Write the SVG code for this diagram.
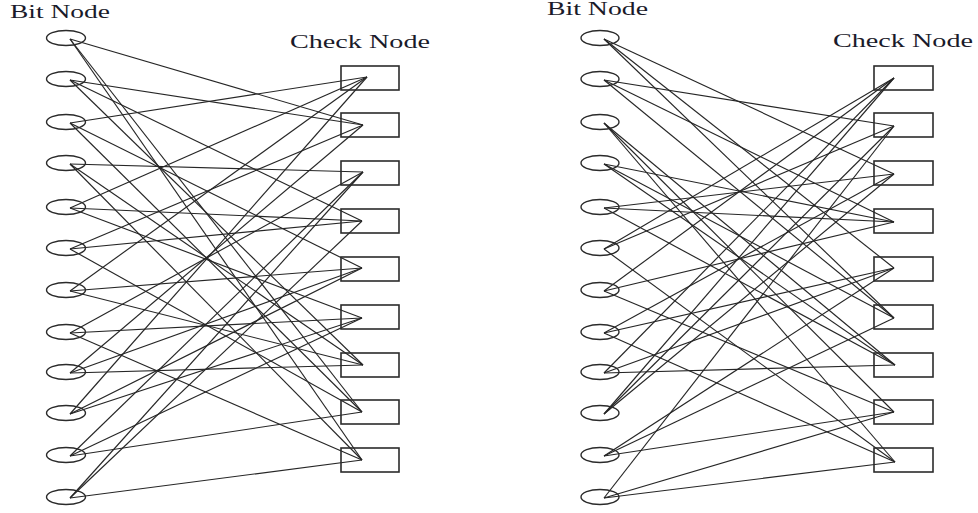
<svg xmlns="http://www.w3.org/2000/svg" width="978" height="513" viewBox="0 0 978 513">
<style>
.bit{fill:none;stroke:#2b2b2b;stroke-width:1.4}
.chk{fill:none;stroke:#2b2b2b;stroke-width:1.6}
.e{stroke:#262626;stroke-width:1.15;fill:none}
.lbl{font-family:"Liberation Serif","Times New Roman",serif;font-size:18px;fill:#1a1a2a}
</style>
<rect width="978" height="513" fill="#fff"/>
<g id="labels">
<text class="lbl" x="10" y="18" textLength="100" lengthAdjust="spacingAndGlyphs">Bit Node</text>
<text class="lbl" x="290" y="48" textLength="140" lengthAdjust="spacingAndGlyphs">Check Node</text>
<text class="lbl" x="547" y="15" textLength="101" lengthAdjust="spacingAndGlyphs">Bit Node</text>
<text class="lbl" x="833" y="47" textLength="140" lengthAdjust="spacingAndGlyphs">Check Node</text>
</g>
<g id="connectors-left" class="e">
<line x1="70" y1="39" x2="363" y2="125"/><line x1="70" y1="39" x2="362" y2="412"/><line x1="70" y1="39" x2="362" y2="460"/>
<line x1="70" y1="80" x2="363" y2="125"/><line x1="70" y1="80" x2="362" y2="221"/><line x1="70" y1="80" x2="363" y2="365"/>
<line x1="70" y1="123" x2="367" y2="77"/><line x1="70" y1="123" x2="362" y2="268"/><line x1="70" y1="123" x2="362" y2="412"/>
<line x1="70" y1="164" x2="363" y2="172"/><line x1="70" y1="164" x2="363" y2="365"/><line x1="70" y1="164" x2="362" y2="460"/>
<line x1="70" y1="208" x2="367" y2="77"/><line x1="70" y1="208" x2="362" y2="221"/><line x1="70" y1="208" x2="362" y2="318"/>
<line x1="70" y1="249" x2="362" y2="221"/><line x1="70" y1="249" x2="363" y2="125"/><line x1="70" y1="249" x2="362" y2="412"/>
<line x1="70" y1="291" x2="362" y2="268"/><line x1="70" y1="291" x2="367" y2="77"/><line x1="70" y1="291" x2="363" y2="365"/>
<line x1="70" y1="333" x2="362" y2="318"/><line x1="70" y1="333" x2="363" y2="172"/><line x1="70" y1="333" x2="362" y2="460"/>
<line x1="70" y1="373" x2="363" y2="365"/><line x1="70" y1="373" x2="363" y2="125"/><line x1="70" y1="373" x2="362" y2="268"/>
<line x1="70" y1="414" x2="367" y2="77"/><line x1="70" y1="414" x2="362" y2="268"/><line x1="70" y1="414" x2="362" y2="318"/>
<line x1="70" y1="456" x2="362" y2="412"/><line x1="70" y1="456" x2="363" y2="172"/><line x1="70" y1="456" x2="362" y2="318"/>
<line x1="70" y1="498" x2="362" y2="460"/><line x1="70" y1="498" x2="363" y2="172"/><line x1="70" y1="498" x2="362" y2="221"/>
</g>
<g id="connectors-right" class="e">
<line x1="604" y1="39" x2="894" y2="174"/><line x1="604" y1="39" x2="894" y2="318"/><line x1="604" y1="39" x2="894" y2="268"/>
<line x1="604" y1="80" x2="894" y2="222"/><line x1="604" y1="80" x2="894" y2="318"/><line x1="604" y1="80" x2="894" y2="126"/>
<line x1="604" y1="123" x2="895" y2="365"/><line x1="604" y1="123" x2="894" y2="412"/><line x1="604" y1="123" x2="895" y2="462"/>
<line x1="604" y1="164" x2="894" y2="222"/><line x1="604" y1="164" x2="895" y2="365"/><line x1="604" y1="164" x2="894" y2="318"/>
<line x1="604" y1="208" x2="894" y2="174"/><line x1="604" y1="208" x2="895" y2="365"/><line x1="604" y1="208" x2="894" y2="222"/>
<line x1="604" y1="249" x2="894" y2="126"/><line x1="604" y1="249" x2="895" y2="462"/><line x1="604" y1="249" x2="894" y2="78"/>
<line x1="604" y1="291" x2="894" y2="78"/><line x1="604" y1="291" x2="894" y2="222"/><line x1="604" y1="291" x2="894" y2="412"/>
<line x1="604" y1="333" x2="895" y2="462"/><line x1="604" y1="333" x2="894" y2="268"/><line x1="604" y1="333" x2="894" y2="174"/>
<line x1="604" y1="373" x2="895" y2="365"/><line x1="604" y1="373" x2="894" y2="268"/><line x1="604" y1="373" x2="894" y2="78"/>
<line x1="604" y1="414" x2="894" y2="78"/><line x1="604" y1="414" x2="894" y2="126"/><line x1="604" y1="414" x2="894" y2="174"/>
<line x1="604" y1="456" x2="894" y2="318"/><line x1="604" y1="456" x2="894" y2="412"/><line x1="604" y1="456" x2="894" y2="268"/>
<line x1="604" y1="498" x2="895" y2="462"/><line x1="604" y1="498" x2="894" y2="412"/><line x1="604" y1="498" x2="894" y2="126"/>
</g>
<g id="left-bits">
<g id="Lb1"><ellipse class="bit" cx="66" cy="38" rx="19.5" ry="7.5"/></g>
<g id="Lb2"><ellipse class="bit" cx="66" cy="79" rx="19.5" ry="7.5"/></g>
<g id="Lb3"><ellipse class="bit" cx="66" cy="122" rx="19.5" ry="7.5"/></g>
<g id="Lb4"><ellipse class="bit" cx="66" cy="163" rx="19.5" ry="7.5"/></g>
<g id="Lb5"><ellipse class="bit" cx="66" cy="207" rx="19.5" ry="7.5"/></g>
<g id="Lb6"><ellipse class="bit" cx="66" cy="248" rx="19.5" ry="7.5"/></g>
<g id="Lb7"><ellipse class="bit" cx="66" cy="290" rx="19.5" ry="7.5"/></g>
<g id="Lb8"><ellipse class="bit" cx="66" cy="332" rx="19.5" ry="7.5"/></g>
<g id="Lb9"><ellipse class="bit" cx="66" cy="372" rx="19.5" ry="7.5"/></g>
<g id="Lb10"><ellipse class="bit" cx="66" cy="413" rx="19.5" ry="7.5"/></g>
<g id="Lb11"><ellipse class="bit" cx="66" cy="455" rx="19.5" ry="7.5"/></g>
<g id="Lb12"><ellipse class="bit" cx="66" cy="497" rx="19.5" ry="7.5"/></g>
</g>
<g id="left-checks">
<g id="Lc1"><rect class="chk" x="341" y="66" width="58" height="24"/></g>
<g id="Lc2"><rect class="chk" x="341" y="113" width="58" height="24"/></g>
<g id="Lc3"><rect class="chk" x="341" y="161" width="58" height="24"/></g>
<g id="Lc4"><rect class="chk" x="341" y="209" width="58" height="24"/></g>
<g id="Lc5"><rect class="chk" x="341" y="257" width="58" height="24"/></g>
<g id="Lc6"><rect class="chk" x="341" y="305" width="58" height="24"/></g>
<g id="Lc7"><rect class="chk" x="341" y="353" width="58" height="24"/></g>
<g id="Lc8"><rect class="chk" x="341" y="400" width="58" height="24"/></g>
<g id="Lc9"><rect class="chk" x="341" y="448" width="58" height="24"/></g>
</g>
<g id="right-bits">
<g id="Rb1"><ellipse class="bit" cx="600" cy="38" rx="19" ry="7.5"/></g>
<g id="Rb2"><ellipse class="bit" cx="600" cy="79" rx="19" ry="7.5"/></g>
<g id="Rb3"><ellipse class="bit" cx="600" cy="122" rx="19" ry="7.5"/></g>
<g id="Rb4"><ellipse class="bit" cx="600" cy="163" rx="19" ry="7.5"/></g>
<g id="Rb5"><ellipse class="bit" cx="600" cy="207" rx="19" ry="7.5"/></g>
<g id="Rb6"><ellipse class="bit" cx="600" cy="248" rx="19" ry="7.5"/></g>
<g id="Rb7"><ellipse class="bit" cx="600" cy="290" rx="19" ry="7.5"/></g>
<g id="Rb8"><ellipse class="bit" cx="600" cy="332" rx="19" ry="7.5"/></g>
<g id="Rb9"><ellipse class="bit" cx="600" cy="372" rx="19" ry="7.5"/></g>
<g id="Rb10"><ellipse class="bit" cx="600" cy="413" rx="19" ry="7.5"/></g>
<g id="Rb11"><ellipse class="bit" cx="600" cy="455" rx="19" ry="7.5"/></g>
<g id="Rb12"><ellipse class="bit" cx="600" cy="497" rx="19" ry="7.5"/></g>
</g>
<g id="right-checks">
<g id="Rc1"><rect class="chk" x="874" y="66" width="59" height="24"/></g>
<g id="Rc2"><rect class="chk" x="874" y="113" width="59" height="24"/></g>
<g id="Rc3"><rect class="chk" x="874" y="161" width="59" height="24"/></g>
<g id="Rc4"><rect class="chk" x="874" y="209" width="59" height="24"/></g>
<g id="Rc5"><rect class="chk" x="874" y="257" width="59" height="24"/></g>
<g id="Rc6"><rect class="chk" x="874" y="305" width="59" height="24"/></g>
<g id="Rc7"><rect class="chk" x="874" y="353" width="59" height="24"/></g>
<g id="Rc8"><rect class="chk" x="874" y="400" width="59" height="24"/></g>
<g id="Rc9"><rect class="chk" x="874" y="448" width="59" height="24"/></g>
</g>
</svg>
